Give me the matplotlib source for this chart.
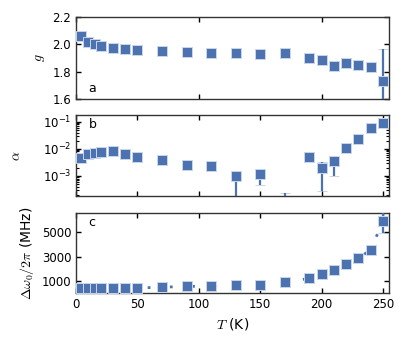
import numpy as np
import matplotlib
matplotlib.use('Agg')
import matplotlib.pyplot as plt
from matplotlib.ticker import LogLocator, NullFormatter

plt.rcParams['font.family'] = 'DejaVu Sans'
plt.rcParams['font.size'] = 8.5
plt.rcParams['mathtext.fontset'] = 'cm'
plt.rcParams['axes.linewidth'] = 1.0
plt.rcParams['axes.edgecolor'] = '#333333'

# temperatures (K)
T = [4, 10, 15, 20, 30, 40, 50, 70, 90, 110, 130, 150, 170, 190, 200, 210, 220, 230, 240, 250]

# panel a: g factor
g = [2.062, 2.02, 2.005, 1.988, 1.975, 1.965, 1.958, 1.948, 1.946, 1.938, 1.938, 1.928,
     1.933, 1.896, 1.884, 1.842, 1.864, 1.847, 1.832, 1.733]
g_err = [0.01] * 19 + [0.23]

# panel b: damping alpha
alpha = [4.6e-3, 6.2e-3, 7.1e-3, 7.7e-3, 8.2e-3, 6.3e-3, 5.2e-3, 3.8e-3, 2.5e-3, 2.4e-3,
         1.0e-3, 1.2e-3, 3e-5, 5.0e-3, 2.0e-3, 3.5e-3, 1.06e-2, 2.35e-2, 5.8e-2, 8.7e-2]
alpha_lo = [3e-4, 3e-4, 3e-4, 3e-4, 3e-4, 3e-4, 3e-4, 3e-4, 3e-4, 3e-4,
            9.9e-4, 7.5e-4, 0, 4e-4, 1.73e-3, 2.5e-3, 8e-4, 1.5e-3, 4e-3, 6e-3]
alpha_hi = [3e-4, 3e-4, 3e-4, 3e-4, 3e-4, 3e-4, 3e-4, 3e-4, 3e-4, 3e-4,
            2e-4, 2e-4, 2.0e-4, 4e-4, 1.3e-3, 2.1e-3, 8e-4, 1.5e-3, 4e-3, 6e-3]

# panel c: linewidth (MHz)
dw = [390, 390, 390, 390, 390, 390, 400, 470, 530, 560, 640, 690, 890, 1190, 1530,
      1920, 2360, 2890, 3530, 5940]
dw_err = [30] * 19 + [1000]

blue = '#4c72b0'
edge = '#c9d6ec'

fig = plt.figure(figsize=(4.07, 3.52), dpi=100)
left, width = 0.187, 0.769
ax_a = fig.add_axes([left, 0.719, width, 0.233])
ax_b = fig.add_axes([left, 0.443, width, 0.230])
ax_c = fig.add_axes([left, 0.168, width, 0.227])


def draw(ax, y, yerr):
    line, caps, bars = ax.errorbar(T, y, yerr=yerr, fmt='s', color=blue, ms=7,
                                   mec=edge, mew=0.7, ecolor=blue, elinewidth=1.6,
                                   capsize=3.5, capthick=1.0, zorder=3)
    for c in caps:
        c.set_alpha(0.3)
    return line


draw(ax_a, g, g_err)
ax_a.set_ylim(1.6, 2.2)
ax_a.set_yticks([1.6, 1.8, 2.0, 2.2])
ax_a.set_ylabel(r'$g$', fontsize=10)
ax_a.set_xticks([0, 100, 200])
ax_a.set_xticklabels([])
ax_a.text(0.04, 0.08, 'a', transform=ax_a.transAxes, fontsize=9)

draw(ax_b, alpha, [alpha_lo, alpha_hi])
ax_b.set_yscale('log')
ax_b.set_ylim(1.8e-4, 0.177)
ax_b.yaxis.set_major_locator(LogLocator(base=10, numticks=10))
ax_b.yaxis.set_minor_locator(LogLocator(base=10, subs=np.arange(2, 10), numticks=20))
ax_b.yaxis.set_minor_formatter(NullFormatter())
ax_b.set_ylabel(r'$\alpha$', fontsize=10, labelpad=14)
ax_b.set_xticks([0, 50, 100, 150, 200, 250])
ax_b.set_xticklabels([])
ax_b.text(0.04, 0.84, 'b', transform=ax_b.transAxes, fontsize=9)

draw(ax_c, dw, dw_err)
ax_c.plot(T, dw, linestyle=(0, (1, 7)), color=blue, lw=2.0, zorder=2)
ax_c.set_ylim(0, 6600)
ax_c.set_yticks([1000, 3000, 5000])
ax_c.set_ylabel(r'$\Delta\omega_0/2\pi$ (MHz)', fontsize=10)
ax_c.set_xticks([0, 50, 100, 150, 200, 250])
ax_c.set_xlabel(r'$T$ (K)', fontsize=10)
ax_c.text(0.04, 0.84, 'c', transform=ax_c.transAxes, fontsize=9)

for ax in (ax_a, ax_b, ax_c):
    ax.set_xlim(0, 255)
    ax.tick_params(which='both', direction='in', top=True, right=True, length=3.5, width=1.0)
    ax.tick_params(which='minor', length=2.0, width=0.8)

fig.savefig('out.png', dpi=100)
